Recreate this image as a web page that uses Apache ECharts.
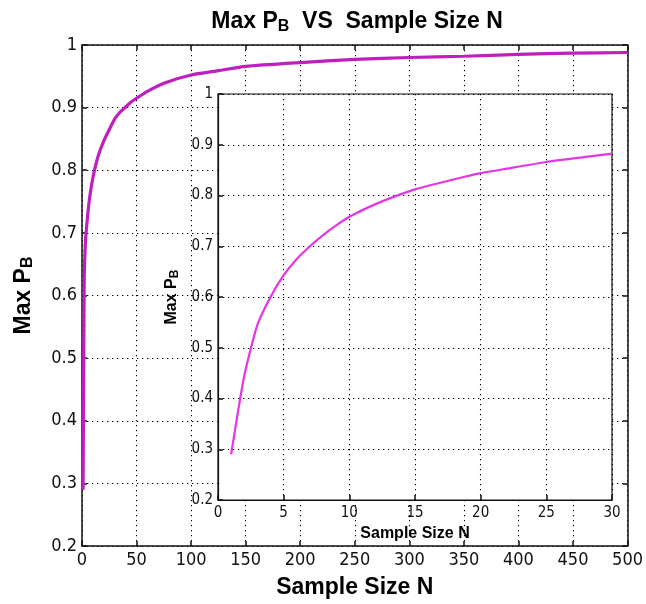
<!DOCTYPE html>
<html>
<head>
<meta charset="utf-8">
<script src="https://cdn.jsdelivr.net/npm/echarts@6/dist/echarts.min.js"></script>
<style>
html,body{margin:0;padding:0;background:#fff;}
#chart{width:646px;height:604px;}
</style>
</head>
<body>
<div id="chart"></div>
<script>
// Main plot data
var mainN = [1, 2, 3, 4, 6, 8, 10, 12, 15, 20, 25, 30, 35, 40, 45, 50, 60, 75, 100, 125, 150, 200, 250, 300, 350, 400, 450, 500];
var mainP = [0.29, 0.62, 0.68, 0.705, 0.742, 0.768, 0.788, 0.804, 0.824, 0.847, 0.865, 0.882, 0.893, 0.901, 0.909, 0.915, 0.926, 0.939, 0.952, 0.959, 0.966, 0.972, 0.977, 0.98, 0.982, 0.985, 0.987, 0.988];
// Inset data
var insetN = [1, 2, 3, 4, 5, 6, 7, 8, 9, 10, 12, 15, 18, 20, 22, 25, 28, 30];
var insetP = [0.29, 0.445, 0.545, 0.6, 0.643, 0.675, 0.7, 0.722, 0.741, 0.758, 0.783, 0.812, 0.832, 0.844, 0.853, 0.866, 0.876, 0.8825];
// Tick settings
var mainXTicks = {min: 0, max: 500, interval: 50};
var insetXTicks = {min: 0, max: 30, interval: 5};
var yTicks = {min: 0.2, max: 1, interval: 0.1};

var titleText = 'Max P{sub|B}  VS  Sample Size N';
var xName = 'Sample Size N';
var yName = 'Max P{sub|B}';

function pairs(xs, ys) { return xs.map(function (x, i) { return [x, ys[i]]; }); }

var narrow = "'DejaVu Sans Condensed', 'Liberation Sans', sans-serif";
var boldFont = "'Liberation Sans', Arial, sans-serif";
var dotted = {type: [1.3, 3.7], color: '#000', width: 1.1};

function axisBase(gi, z, fs, showLabel) {
  return {
    gridIndex: gi, type: 'value', z: z,
    axisLine: {show: true, onZero: false, lineStyle: {color: '#111', width: 1.5}},
    axisTick: {show: true, inside: true, length: 5, lineStyle: {color: '#111', width: 1.5}},
    axisLabel: {show: showLabel, color: '#111', fontSize: fs, fontFamily: narrow, margin: 5},
    splitLine: {show: false}
  };
}

var chart = echarts.init(document.getElementById('chart'), null, {renderer: 'canvas'});

var xMain = Object.assign(axisBase(0, 0, 18, true), mainXTicks, {
  position: 'bottom',
  splitLine: {show: true, lineStyle: dotted},
  name: xName, nameLocation: 'middle', nameGap: 30,
  nameTextStyle: {fontSize: 23, fontWeight: 'bold', fontFamily: boldFont, color: '#000'}
});
var xMainTop = Object.assign(axisBase(0, 0, 18, false), mainXTicks, {position: 'top'});
var yMain = Object.assign(axisBase(0, 0, 18, true), yTicks, {
  position: 'left',
  splitLine: {show: true, lineStyle: dotted},
  name: yName, nameLocation: 'middle', nameGap: 46,
  nameTextStyle: {fontSize: 23, fontWeight: 'bold', fontFamily: boldFont, color: '#000',
    rich: {sub: {fontSize: 16, fontWeight: 'bold', fontFamily: boldFont, verticalAlign: 'bottom', padding: [9, 0, 0, 0]}}}
});
var yMainRight = Object.assign(axisBase(0, 0, 18, false), yTicks, {position: 'right'});

var xInset = Object.assign(axisBase(1, 5, 15, true), insetXTicks, {
  position: 'bottom',
  splitLine: {show: true, lineStyle: dotted},
  name: xName, nameLocation: 'middle', nameGap: 18,
  nameTextStyle: {fontSize: 16, fontWeight: 'bold', fontFamily: boldFont, color: '#000'}
});
var yInset = Object.assign(axisBase(1, 5, 15, true), yTicks, {
  position: 'left',
  splitLine: {show: true, lineStyle: dotted},
  name: yName, nameLocation: 'middle', nameGap: 28,
  nameTextStyle: {fontSize: 16, fontWeight: 'bold', fontFamily: boldFont, color: '#000',
    rich: {sub: {fontSize: 12, fontWeight: 'bold', fontFamily: boldFont, verticalAlign: 'bottom', padding: [6, 0, 0, 0]}}}
});
xInset.axisLine.lineStyle = {color: '#111', width: 1.2};
yInset.axisLine.lineStyle = {color: '#111', width: 1.2};
xInset.axisLabel.margin = 6;

chart.setOption({
  animation: false,
  backgroundColor: '#fff',
  title: {
    text: titleText, left: 352, textAlign: 'center', top: 3,
    textStyle: {fontSize: 23, fontWeight: 'bold', fontFamily: boldFont, color: '#000',
      rich: {sub: {fontSize: 16, fontWeight: 'bold', fontFamily: boldFont, padding: [11, 0, 0, 0]}}}
  },
  grid: [
    {left: 82, top: 45, width: 551, height: 503, show: false, z: 0},
    {left: 218, top: 94, width: 394, height: 406, show: true, backgroundColor: '#fff',
      borderColor: '#111', borderWidth: 1.2, z: 4}
  ],
  xAxis: [xMain, xInset, xMainTop],
  yAxis: [yMain, yInset, yMainRight],
  series: [
    {type: 'line', xAxisIndex: 0, yAxisIndex: 0, data: pairs(mainN, mainP), showSymbol: false,
      smooth: 0.2,
      lineStyle: {color: '#bf1fbf', width: 3.2}, z: 3},
    {type: 'line', xAxisIndex: 1, yAxisIndex: 1, data: pairs(insetN, insetP), showSymbol: false,
      smooth: 0.2,
      lineStyle: {color: '#e535e5', width: 2.2}, z: 8}
  ]
});
</script>
</body>
</html>
